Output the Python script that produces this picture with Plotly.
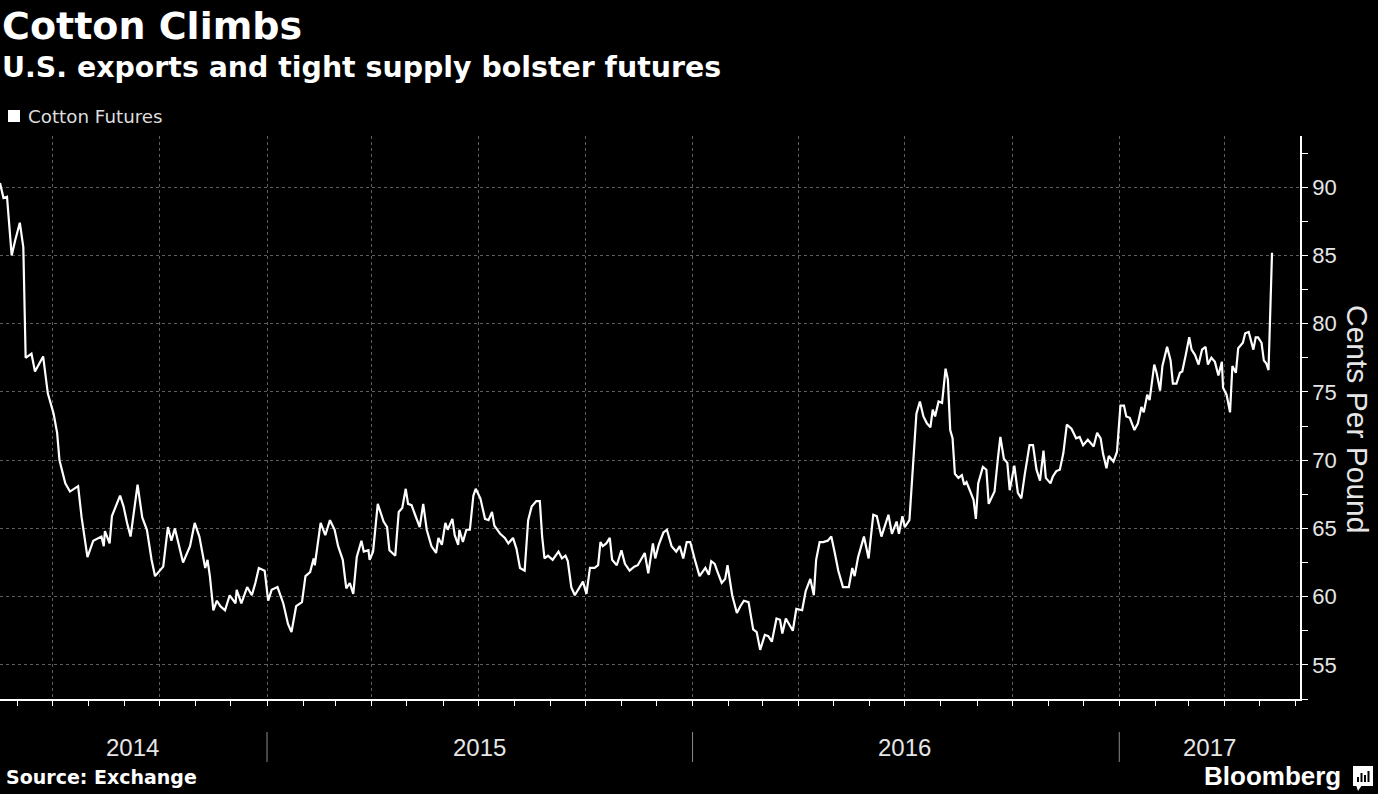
import plotly.graph_objects as go

# ---------------- data ----------------
dates = [
    "2014-05-17", "2014-05-20", "2014-05-23", "2014-05-27", "2014-05-30", "2014-06-03", "2014-06-06", "2014-06-08",
    "2014-06-13", "2014-06-16", "2014-06-23", "2014-06-27", "2014-07-02", "2014-07-05", "2014-07-07", "2014-07-12",
    "2014-07-16", "2014-07-23", "2014-07-26", "2014-07-31", "2014-08-05", "2014-08-12", "2014-08-14", "2014-08-15",
    "2014-08-19", "2014-08-21", "2014-08-28", "2014-08-31", "2014-09-03", "2014-09-06", "2014-09-12", "2014-09-16",
    "2014-09-20", "2014-09-24", "2014-09-27", "2014-10-04", "2014-10-08", "2014-10-11", "2014-10-14", "2014-10-21",
    "2014-10-27", "2014-10-31", "2014-11-04", "2014-11-09", "2014-11-11", "2014-11-13", "2014-11-16", "2014-11-19",
    "2014-11-22", "2014-11-26", "2014-11-30", "2014-12-05", "2014-12-06", "2014-12-10", "2014-12-15", "2014-12-19",
    "2014-12-22", "2014-12-25", "2014-12-30", "2015-01-02", "2015-01-05", "2015-01-10", "2015-01-15", "2015-01-19",
    "2015-01-22", "2015-01-26", "2015-01-31", "2015-02-03", "2015-02-07", "2015-02-10", "2015-02-11", "2015-02-16",
    "2015-02-20", "2015-02-24", "2015-02-28", "2015-03-03", "2015-03-07", "2015-03-10", "2015-03-13", "2015-03-16",
    "2015-03-19", "2015-03-23", "2015-03-25", "2015-03-29", "2015-03-30", "2015-04-02", "2015-04-06", "2015-04-11",
    "2015-04-14", "2015-04-16", "2015-04-21", "2015-04-24", "2015-04-27", "2015-04-30", "2015-05-02", "2015-05-05",
    "2015-05-08", "2015-05-12", "2015-05-15", "2015-05-18", "2015-05-22", "2015-05-26", "2015-05-28", "2015-05-31",
    "2015-06-03", "2015-06-05", "2015-06-09", "2015-06-11", "2015-06-14", "2015-06-15", "2015-06-18", "2015-06-21",
    "2015-06-24", "2015-06-27", "2015-06-29", "2015-07-03", "2015-07-07", "2015-07-10", "2015-07-13", "2015-07-15",
    "2015-07-20", "2015-07-24", "2015-07-27", "2015-07-31", "2015-08-03", "2015-08-06", "2015-08-10", "2015-08-13",
    "2015-08-16", "2015-08-20", "2015-08-23", "2015-08-25", "2015-08-27", "2015-08-30", "2015-09-03", "2015-09-08",
    "2015-09-11", "2015-09-14", "2015-09-16", "2015-09-19", "2015-09-22", "2015-09-25", "2015-09-29", "2015-10-02",
    "2015-10-05", "2015-10-09", "2015-10-12", "2015-10-14", "2015-10-16", "2015-10-19", "2015-10-22", "2015-10-24",
    "2015-10-28", "2015-11-01", "2015-11-04", "2015-11-08", "2015-11-12", "2015-11-15", "2015-11-21", "2015-11-24",
    "2015-11-28", "2015-11-30", "2015-12-03", "2015-12-07", "2015-12-10", "2015-12-14", "2015-12-18", "2015-12-21",
    "2015-12-24", "2015-12-27", "2015-12-30", "2016-01-03", "2016-01-07", "2016-01-12", "2016-01-15", "2016-01-17",
    "2016-01-20", "2016-01-22", "2016-01-26", "2016-01-29", "2016-01-31", "2016-02-04", "2016-02-08", "2016-02-11",
    "2016-02-14", "2016-02-18", "2016-02-22", "2016-02-25", "2016-02-28", "2016-03-03", "2016-03-06", "2016-03-09",
    "2016-03-13", "2016-03-16", "2016-03-18", "2016-03-21", "2016-03-27", "2016-03-30", "2016-04-04", "2016-04-07",
    "2016-04-11", "2016-04-14", "2016-04-16", "2016-04-19", "2016-04-22", "2016-04-26", "2016-04-29", "2016-05-02",
    "2016-05-05", "2016-05-09", "2016-05-14", "2016-05-17", "2016-05-19", "2016-05-22", "2016-05-27", "2016-05-31",
    "2016-06-04", "2016-06-07", "2016-06-11", "2016-06-17", "2016-06-20", "2016-06-24", "2016-06-26", "2016-06-29",
    "2016-07-01", "2016-07-05", "2016-07-08", "2016-07-11", "2016-07-14", "2016-07-17", "2016-07-20", "2016-07-23",
    "2016-07-25", "2016-07-27", "2016-07-30", "2016-08-02", "2016-08-05", "2016-08-07", "2016-08-09", "2016-08-11",
    "2016-08-13", "2016-08-16", "2016-08-19", "2016-08-21", "2016-08-23", "2016-08-26", "2016-08-29", "2016-08-31",
    "2016-09-02", "2016-09-06", "2016-09-09", "2016-09-11", "2016-09-14", "2016-09-16", "2016-09-19", "2016-09-21",
    "2016-09-24", "2016-09-27", "2016-09-29", "2016-10-03", "2016-10-06", "2016-10-09", "2016-10-12", "2016-10-16",
    "2016-10-19", "2016-10-22", "2016-10-25", "2016-10-28", "2016-10-30", "2016-11-03", "2016-11-05", "2016-11-08",
    "2016-11-11", "2016-11-14", "2016-11-17", "2016-11-21", "2016-11-25", "2016-11-28", "2016-12-01", "2016-12-05",
    "2016-12-10", "2016-12-13", "2016-12-16", "2016-12-18", "2016-12-21", "2016-12-23", "2016-12-27", "2016-12-30",
    "2017-01-02", "2017-01-05", "2017-01-07", "2017-01-10", "2017-01-14", "2017-01-17", "2017-01-20", "2017-01-22",
    "2017-01-25", "2017-01-27", "2017-01-31", "2017-02-02", "2017-02-05", "2017-02-07", "2017-02-11", "2017-02-14",
    "2017-02-16", "2017-02-19", "2017-02-22", "2017-02-24", "2017-02-27", "2017-03-02", "2017-03-04", "2017-03-07",
    "2017-03-10", "2017-03-13", "2017-03-16", "2017-03-18", "2017-03-21", "2017-03-24", "2017-03-27", "2017-03-30",
    "2017-03-31", "2017-04-03", "2017-04-06", "2017-04-08", "2017-04-11", "2017-04-13", "2017-04-17", "2017-04-19",
    "2017-04-22", "2017-04-24", "2017-04-26", "2017-04-28", "2017-04-30", "2017-05-03", "2017-05-05", "2017-05-07",
    "2017-05-09", "2017-05-12",
]

cotton_cents = [
    90.3, 89.2, 89.3, 85.0, 86.1, 87.4, 85.6, 77.5,
    77.8, 76.5, 77.6, 74.9, 73.4, 72.0, 70.0, 68.3,
    67.7, 68.1, 65.8, 62.9, 64.1, 64.4, 63.7, 64.8,
    63.9, 65.9, 67.4, 66.6, 65.4, 64.4, 68.2, 65.8,
    64.9, 62.7, 61.5, 62.2, 65.1, 64.1, 65.0, 62.5,
    63.7, 65.4, 64.4, 62.1, 62.7, 61.5, 59.0, 59.7,
    59.3, 59.0, 60.1, 59.5, 60.5, 59.5, 60.7, 60.1,
    61.0, 62.1, 61.9, 59.7, 60.5, 60.7, 59.5, 58.0,
    57.4, 59.3, 59.6, 61.5, 61.8, 62.8, 62.3, 65.4,
    64.5, 65.6, 64.9, 63.7, 62.7, 60.6, 61.0, 60.2,
    62.9, 64.1, 63.3, 63.4, 62.7, 63.3, 66.8, 65.5,
    65.1, 63.4, 63.0, 66.2, 66.5, 67.9, 66.8, 66.7,
    66.0, 65.1, 66.8, 64.9, 63.7, 63.2, 64.3, 63.8,
    65.4, 64.9, 65.7, 64.5, 63.8, 64.9, 64.0, 64.9,
    64.9, 67.4, 67.9, 67.2, 65.7, 65.6, 66.2, 65.2,
    64.6, 64.3, 63.9, 64.3, 63.5, 62.1, 61.9, 65.6,
    66.6, 67.0, 67.0, 64.4, 62.8, 63.0, 62.7, 63.3,
    62.8, 63.0, 62.6, 60.7, 60.1, 60.5, 61.1, 60.2,
    62.1, 62.1, 62.3, 64.0, 63.7, 63.9, 64.3, 62.7,
    62.3, 63.4, 62.4, 61.9, 62.2, 62.3, 63.2, 61.7,
    63.9, 62.8, 63.8, 64.7, 64.9, 63.7, 63.3, 63.7,
    62.8, 64.0, 64.0, 62.7, 61.5, 62.1, 61.6, 62.6,
    62.4, 61.9, 61.0, 61.3, 62.3, 60.1, 58.8, 59.3,
    59.7, 59.6, 57.6, 57.4, 56.1, 57.2, 57.1, 56.7,
    58.4, 58.3, 57.3, 58.4, 57.5, 59.1, 59.0, 60.4,
    61.3, 60.1, 62.7, 64.0, 64.0, 64.1, 64.4, 63.2,
    61.9, 60.7, 60.7, 62.1, 61.5, 62.9, 64.4, 62.8,
    66.0, 65.9, 64.4, 66.0, 64.6, 65.5, 64.6, 65.9,
    65.1, 65.6, 69.8, 73.4, 74.3, 73.2, 72.7, 72.4,
    73.7, 73.2, 74.3, 74.2, 76.7, 75.9, 72.2, 71.6,
    69.0, 68.7, 68.9, 68.2, 68.4, 67.8, 67.1, 65.7,
    68.3, 69.5, 69.3, 66.8, 67.4, 67.7, 70.2, 71.7,
    70.1, 69.8, 67.8, 69.6, 67.6, 67.2, 69.0, 71.1,
    71.1, 69.3, 68.5, 70.7, 68.7, 68.3, 68.8, 69.2,
    69.3, 70.5, 72.6, 72.3, 71.6, 71.7, 71.1, 71.5,
    71.0, 72.0, 71.6, 70.5, 69.4, 70.3, 69.9, 70.6,
    74.0, 74.0, 73.2, 73.1, 72.2, 72.7, 73.9, 73.5,
    74.8, 74.4, 77.0, 76.4, 75.1, 76.9, 78.3, 77.3,
    75.6, 75.6, 76.4, 76.5, 77.7, 79.0, 78.1, 77.7,
    77.0, 78.1, 78.3, 77.0, 77.5, 77.2, 76.2, 77.2,
    75.3, 74.8, 73.5, 76.9, 76.4, 78.2, 78.6, 79.3,
    79.4, 78.7, 78.1, 79.0, 79.0, 78.6, 77.3, 77.1,
    76.6, 85.2,
]

year_labels = ["2014", "2015", "2016", "2017"]
year_label_dates = ["2014-09-08", "2015-07-02", "2016-07-01", "2017-03-19"]
year_boundaries = ["2015-01-01", "2016-01-01", "2017-01-01"]

x_range = ["2014-05-17", "2017-06-05"]
y_range = [52.5, 93.75]

# ---------------- layout helpers ----------------
W, H = 1378, 794
ML, MR, MT, MB = 0, 78, 136, 95
PW = W - ML - MR
PH = H - MT - MB


def px(x):
    return (x - ML) / PW


def py(y):
    return (H - MB - y) / PH


GRID = "#5e5e5e"
TXT = "#e6e6e6"

fig = go.Figure()
fig.add_trace(go.Scatter(
    x=dates, y=cotton_cents, mode="lines",
    line=dict(color="white", width=2.2),
    name="Cotton Futures", showlegend=False, hoverinfo="x+y",
))

annotations = [
    dict(text="<b>Cotton Climbs</b>", x=px(0), y=py(26), xanchor="left", yanchor="middle",
         font=dict(family="DejaVu Sans", size=38, color="white")),
    dict(text="<b>U.S. exports and tight supply bolster futures</b>", x=px(0), y=py(68),
         xanchor="left", yanchor="middle",
         font=dict(family="DejaVu Sans", size=28.4, color="white")),
    dict(text="Cotton Futures", x=px(26), y=py(116), xanchor="left", yanchor="middle",
         font=dict(family="DejaVu Sans", size=18.3, color="#dddddd")),
    dict(text="Cents Per Pound", x=px(1357), y=py(419), xanchor="center", yanchor="middle",
         textangle=90, font=dict(family="Liberation Sans", size=30, color=TXT)),
    dict(text="<b>Source: Exchange</b>", x=px(4), y=py(777), xanchor="left", yanchor="middle",
         font=dict(family="DejaVu Sans", size=19, color="white")),
    dict(text="<b>Bloomberg</b>", x=px(1343), y=py(776), xanchor="right", yanchor="middle",
         font=dict(family="Liberation Sans", size=26, color="white")),
]
for lab, d in zip(year_labels, year_label_dates):
    annotations.append(dict(text=lab, x=d, xref="x", y=py(747), yref="paper",
                            xanchor="center", yanchor="middle", showarrow=False,
                            font=dict(family="Liberation Sans", size=24, color=TXT)))
for a in annotations:
    a.setdefault("xref", "paper")
    a.setdefault("yref", "paper")
    a.setdefault("showarrow", False)

shapes = [
    # legend swatch
    dict(type="rect", xref="paper", yref="paper", x0=px(8), x1=px(20), y0=py(122), y1=py(110),
         fillcolor="white", line=dict(width=0)),
    # Bloomberg icon
    dict(type="rect", xref="paper", yref="paper", x0=px(1353), x1=px(1373), y0=py(786), y1=py(766),
         fillcolor="white", line=dict(width=0)),
    dict(type="path", xref="paper", yref="paper",
         path=f"M {px(1356)} {py(785)} L {px(1362)} {py(785)} L {px(1358)} {py(791)} Z",
         fillcolor="white", line=dict(width=0)),
]
for bx0, bh in [(1357, 5), (1360.5, 9), (1364, 7), (1367.5, 11)]:
    shapes.append(dict(type="rect", xref="paper", yref="paper", x0=px(bx0), x1=px(bx0 + 2),
                       y0=py(782), y1=py(782 - bh), fillcolor="black", line=dict(width=0)))
for d in year_boundaries:
    shapes.append(dict(type="line", xref="x", yref="paper", x0=d, x1=d, y0=py(732), y1=py(762),
                       line=dict(color="#8a8a8a", width=1)))

fig.update_layout(
    width=W, height=H,
    margin=dict(l=ML, r=MR, t=MT, b=MB, pad=0),
    paper_bgcolor="black", plot_bgcolor="black",
    showlegend=False,
    hovermode="closest",
    annotations=annotations,
    shapes=shapes,
    xaxis=dict(
        type="date", range=x_range, fixedrange=True,
        showline=True, linecolor="white", linewidth=1.5,
        tickmode="linear", tick0="2014-01-01", dtick="M3",
        ticks="outside", ticklen=5, tickcolor="white", tickwidth=1,
        showticklabels=False,
        showgrid=True, gridcolor=GRID, gridwidth=1, griddash="dot",
        zeroline=False,
        minor=dict(dtick="M1", tick0="2014-01-01", ticks="outside", ticklen=5,
                   tickcolor="white", tickwidth=1, showgrid=False),
    ),
    yaxis=dict(
        side="right", range=y_range, fixedrange=True,
        showline=True, linecolor="white", linewidth=1.5,
        tickmode="linear", tick0=55, dtick=5,
        ticks="outside", ticklen=6, tickcolor="white", tickwidth=1,
        tickfont=dict(family="Liberation Sans", size=22, color=TXT),
        showgrid=True, gridcolor=GRID, gridwidth=1, griddash="dot",
        zeroline=False,
        minor=dict(dtick=2.5, tick0=52.5, ticks="outside", ticklen=6,
                   tickcolor="white", tickwidth=1, showgrid=False),
    ),
)

fig.write_html(
    "out.html",
    config={"displayModeBar": False},
    post_script="document.body.style.margin='0';document.body.style.padding='0';"
                "document.body.style.background='black';",
)
